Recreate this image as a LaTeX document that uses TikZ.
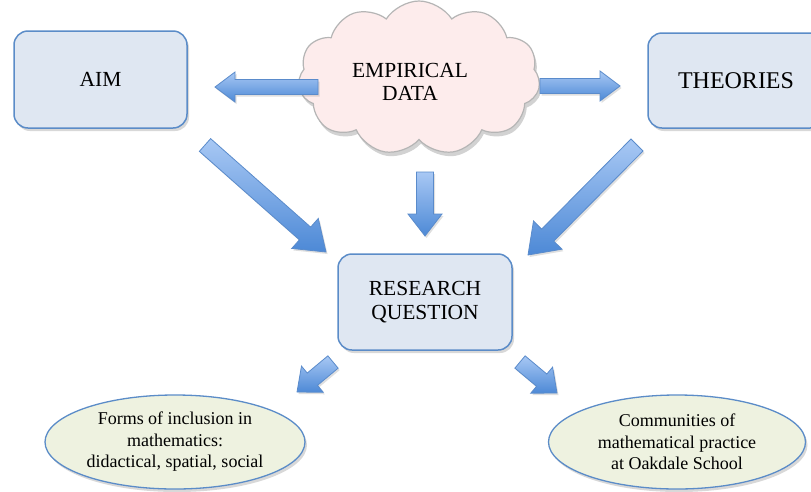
\documentclass[tikz,border=0pt]{standalone}
\usepackage{fontspec}
\setmainfont{Liberation Serif}
\usetikzlibrary{shapes.symbols,shapes.geometric,shadows,calc}
\definecolor{boxfill}{HTML}{DFE7F2}
\definecolor{boxdraw}{HTML}{5B8CC8}
\definecolor{ellfill}{HTML}{EEF2E0}
\definecolor{clfill}{HTML}{FDECEC}
\definecolor{cldraw}{HTML}{B5B5B5}
\definecolor{arrtop}{HTML}{A8C8F4}
\definecolor{arrbot}{HTML}{4D89D6}
\definecolor{arrdraw}{HTML}{5A8BCB}
\tikzset{
  box/.style={draw=boxdraw, line width=1.5pt, fill=boxfill, rounded corners=14pt,
    drop shadow={shadow xshift=2pt, shadow yshift=-3pt, opacity=0.3},
    align=center, inner sep=0pt},
  ell/.style={ellipse, draw=boxdraw, line width=1.3pt, fill=ellfill,
    drop shadow={shadow xshift=2pt, shadow yshift=-3pt, opacity=0.3},
    align=center, inner sep=0pt},
  cloudbox/.style={cloud, cloud puffs=11, cloud puff arc=115, cloud ignores aspect,
    draw=cldraw, line width=1.2pt, fill=clfill, inner sep=0pt,
    drop shadow={shadow xshift=2pt, shadow yshift=-4pt, opacity=0.35}},
  arrowstyle/.style={draw=arrdraw, line width=0.8pt, top color=arrtop, bottom color=arrbot,
    drop shadow={shadow xshift=1.5pt, shadow yshift=-2pt, opacity=0.25}},
  bigtext/.style={font=\fontsize{21.5}{23.5}\selectfont},
  smalltext/.style={font=\fontsize{18}{21.5}\selectfont},
}
\newcommand\blockarrow[5]{%
  \coordinate (bh) at ($(#2)!#5!(#1)$);
  \path[arrowstyle] ($(#1)!#3!90:(#2)$) -- ($(bh)!#3!90:(#2)$) -- ($(bh)!#4!90:(#2)$)
    -- (#2) -- ($(bh)!#4!-90:(#2)$) -- ($(bh)!#3!-90:(#2)$) -- ($(#1)!#3!-90:(#2)$) -- cycle;
}
\begin{document}
\begin{tikzpicture}[x=1pt,y=-1pt]
\useasboundingbox (0,0) rectangle (811,491);
\clip (0,0) rectangle (811,491);
\fill[white] (0,0) rectangle (811,491);

\node[box, minimum width=173pt, minimum height=97pt, bigtext] (aim) at (100.5,79.5) {AIM};
\node[box, minimum width=176pt, minimum height=95pt, font=\fontsize{24}{26}\selectfont] (theo) at (736,80.5) {THEORIES};
\node[cloudbox, minimum width=242pt, minimum height=154pt] (cl) at (419,78) {};
\node[bigtext, align=center] (emp) at (410,82) {EMPIRICAL\\DATA};
\node[box, minimum width=174pt, minimum height=96pt, bigtext] (rq) at (425,302) {RESEARCH\\QUESTION};
\node[ell, minimum width=260pt, minimum height=94pt, smalltext] (forms) at (175,442)
  {Forms of inclusion in\\mathematics:\\didactical, spatial, social};
\node[ell, minimum width=257pt, minimum height=94pt, smalltext] (comm) at (677,442)
  {Communities of\\mathematical practice\\at Oakdale School};

% arrow end points
\coordinate (a1s) at (318,87);  \coordinate (a1e) at (215,87);
\coordinate (a2s) at (540,86);  \coordinate (a2e) at (620,86);
\coordinate (a3s) at (425,172); \coordinate (a3e) at (425,236);
\coordinate (a4s) at (205,145); \coordinate (a4e) at (326,252);
\coordinate (a5s) at (637,145); \coordinate (a5e) at (528,255);
\coordinate (a6s) at (333,362); \coordinate (a6e) at (297,392);
\coordinate (a7s) at (520,362); \coordinate (a7e) at (557,393);

\blockarrow{a1s}{a1e}{7.5pt}{15pt}{20pt}
\blockarrow{a2s}{a2e}{7.5pt}{15pt}{20pt}
\blockarrow{a3s}{a3e}{8.5pt}{17pt}{22pt}
\blockarrow{a4s}{a4e}{8.5pt}{20pt}{28pt}
\blockarrow{a5s}{a5e}{8.5pt}{20pt}{28pt}
\blockarrow{a6s}{a6e}{8pt}{17pt}{20pt}
\blockarrow{a7s}{a7e}{8pt}{17pt}{20pt}
\end{tikzpicture}
\end{document}
